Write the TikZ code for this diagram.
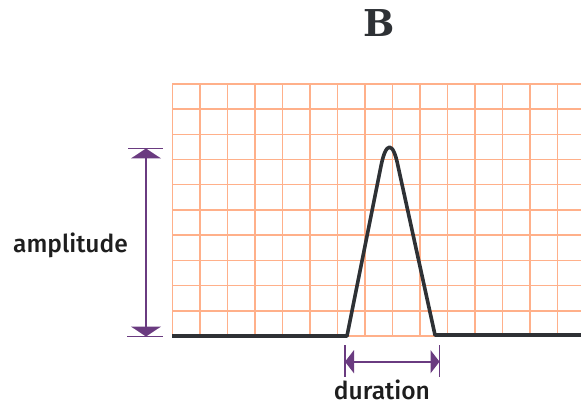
\documentclass[tikz,border=0pt]{standalone}
\usepackage{fontspec}
\setmainfont{Fira Sans}[UprightFont={* Medium}]
\newfontfamily\titlefont{DejaVu Serif}
\usetikzlibrary{arrows.meta}
\definecolor{gridc}{HTML}{FFB08A}
\definecolor{sig}{HTML}{2E3135}
\definecolor{purp}{HTML}{6A3B80}
\definecolor{txt}{HTML}{1E1E1E}
\tikzset{
  gridline/.style={draw=gridc, line width=1.4pt},
  signal/.style={draw=sig, line width=3.6pt, line join=round},
  dimline/.style={draw=purp, line width=1.8pt},
  dimarrow/.style={draw=purp, line width=1.8pt, {Triangle[length=10pt,width=30pt]}-{Triangle[length=10pt,width=30pt]}},
  dimarrowh/.style={draw=purp, line width=1.8pt, {Triangle[length=9pt,width=23pt]}-{Triangle[length=9pt,width=23pt]}},
  label/.style={font=\fontsize{24.6}{28}\selectfont, text=txt, inner sep=0pt}
}
\begin{document}
\begin{tikzpicture}[x=1pt,y=-1pt]
\useasboundingbox (0,0) rectangle (581,406);
% grid
\foreach \k in {0,...,14} {
  \draw[gridline] ({172.3+27.5*\k},84) -- ({172.3+27.5*\k},336);
}
\foreach \k in {0,...,10} {
  \draw[gridline] (172.3,{84+25.2*\k}) -- (581,{84+25.2*\k});
}
% signal
\coordinate (s0) at (172,336);
\coordinate (s1) at (347,336);
\coordinate (s2) at (381,166);
\coordinate (s3) at (398,166);
\coordinate (s4) at (435,335);
\coordinate (s5) at (581,335);
\draw[signal] (s0) -- (s1) -- (s2) .. controls (386,141) and (393,141) .. (s3) -- (s4) -- (s5);
% amplitude
\coordinate (at) at (146,148.5);
\coordinate (ab) at (146,336.5);
\draw[dimline] (128,148.5) -- (163,148.5);
\draw[dimline] (127,336.5) -- (163,336.5);
\draw[dimarrow] (ab) -- (at);
\node[label, anchor=base] (amp) at (70.5,252) {amplitude};
% duration
\coordinate (dl) at (345,361.7);
\coordinate (dr) at (439.5,361.7);
\draw[dimline] (345,345) -- (345,377);
\draw[dimline] (439.5,345) -- (439.5,377);
\draw[dimarrowh] (dl) -- (dr);
\node[label, anchor=base] (dur) at (382,399) {duration};
% title
\node[font=\titlefont\bfseries\fontsize{37}{40}\selectfont, text=sig, inner sep=0pt, anchor=base] (title) at (379,36.7) {B};
\end{tikzpicture}
\end{document}
